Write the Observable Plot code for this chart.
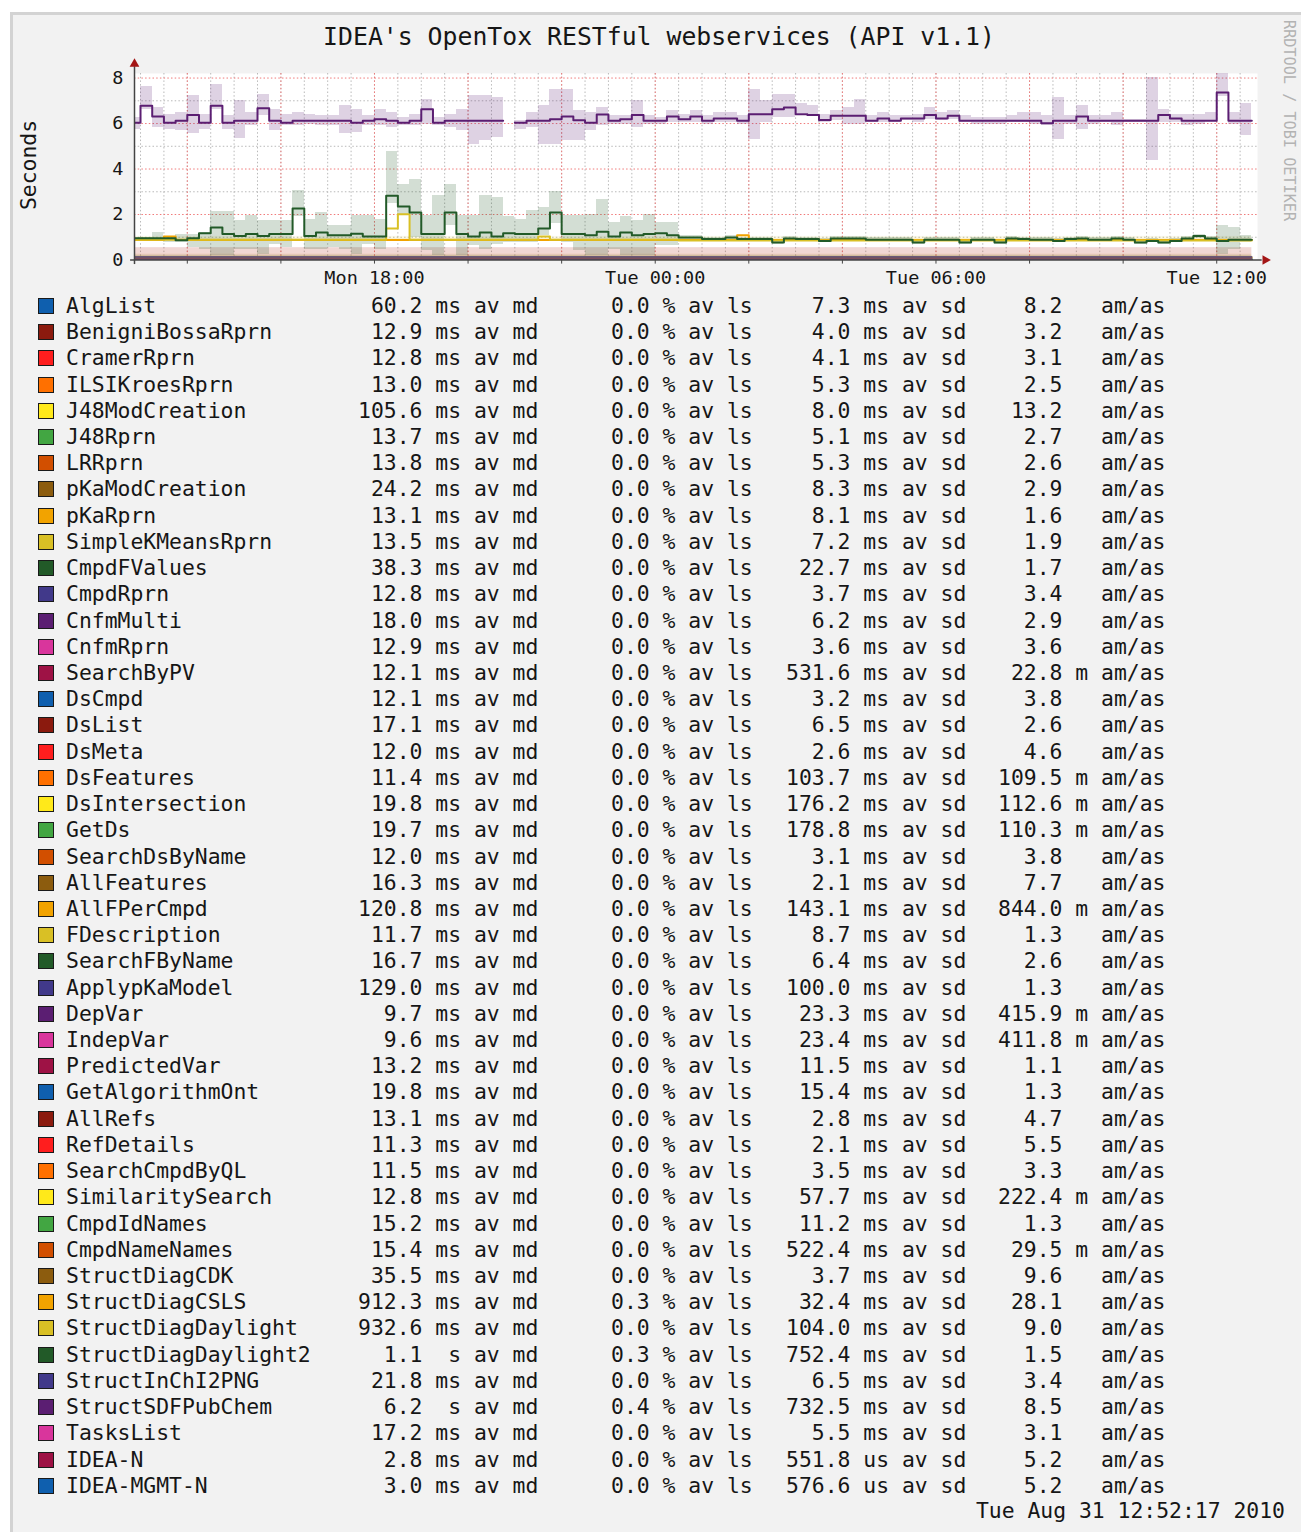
<!DOCTYPE html>
<html><head><meta charset="utf-8">
<script src="https://cdn.jsdelivr.net/npm/d3@7"></script>
<script src="https://cdn.jsdelivr.net/npm/@observablehq/plot@0.6"></script>
<style>
html,body{margin:0;padding:0;background:#fff;overflow:hidden;}
#page{position:relative;width:1301px;height:1532px;font-family:"DejaVu Sans Mono",monospace;color:#161616;overflow:hidden;}
#frame{position:absolute;left:10px;top:12px;width:1330px;height:1560px;background:#f2f2f2;border-left:3px solid #d3d3d3;border-top:3px solid #d3d3d3;box-sizing:border-box;}
#title{position:absolute;left:0;width:1318px;top:22px;text-align:center;font-size:24.8px;line-height:30px;white-space:pre;}
#ylab{position:absolute;left:28px;top:165px;transform:translate(-50%,-50%) rotate(-90deg);font-size:21.4px;white-space:nowrap;}
#wm{position:absolute;left:1281px;top:20px;writing-mode:vertical-rl;font-size:15.2px;line-height:16px;color:#b3b3b3;white-space:nowrap;}
#chart{position:absolute;left:0;top:0;}
.row{position:absolute;left:0;width:1301px;height:26.22px;}
.c{position:absolute;top:0;line-height:26.22px;white-space:pre;font-size:21.4px;}
.sw{position:absolute;left:37.5px;top:5px;width:16px;height:16px;border:1.5px solid #1a1a1a;box-sizing:border-box;}
#stamp{position:absolute;right:16px;top:1498px;font-size:21.4px;line-height:26px;white-space:pre;}
</style></head>
<body>
<div id="page">
  <div id="frame"></div>
  <div id="title">IDEA's OpenTox RESTful webservices (API v1.1)</div>
  <div id="ylab">Seconds</div>
  <div id="wm">RRDTOOL / TOBI OETIKER</div>
  <div id="chart"></div>
  <div id="legend"></div>
  <div id="stamp">Tue Aug 31 12:52:17 2010</div>
</div>
<script>
// ---------- legend data (as printed) ----------
const names = ["AlgList","BenigniBossaRprn","CramerRprn","ILSIKroesRprn","J48ModCreation","J48Rprn","LRRprn","pKaModCreation","pKaRprn","SimpleKMeansRprn","CmpdFValues","CmpdRprn","CnfmMulti","CnfmRprn","SearchByPV","DsCmpd","DsList","DsMeta","DsFeatures","DsIntersection","GetDs","SearchDsByName","AllFeatures","AllFPerCmpd","FDescription","SearchFByName","ApplypKaModel","DepVar","IndepVar","PredictedVar","GetAlgorithmOnt","AllRefs","RefDetails","SearchCmpdByQL","SimilaritySearch","CmpdIdNames","CmpdNameNames","StructDiagCDK","StructDiagCSLS","StructDiagDaylight","StructDiagDaylight2","StructInChI2PNG","StructSDFPubChem","TasksList","IDEA-N","IDEA-MGMT-N"];
const medTxt = ["60.2","12.9","12.8","13.0","105.6","13.7","13.8","24.2","13.1","13.5","38.3","12.8","18.0","12.9","12.1","12.1","17.1","12.0","11.4","19.8","19.7","12.0","16.3","120.8","11.7","16.7","129.0","9.7","9.6","13.2","19.8","13.1","11.3","11.5","12.8","15.2","15.4","35.5","912.3","932.6","1.1","21.8","6.2","17.2","2.8","3.0"];
const medUnit = ["ms","ms","ms","ms","ms","ms","ms","ms","ms","ms","ms","ms","ms","ms","ms","ms","ms","ms","ms","ms","ms","ms","ms","ms","ms","ms","ms","ms","ms","ms","ms","ms","ms","ms","ms","ms","ms","ms","ms","ms","s","ms","s","ms","ms","ms"];
const lossTxt = ["0.0","0.0","0.0","0.0","0.0","0.0","0.0","0.0","0.0","0.0","0.0","0.0","0.0","0.0","0.0","0.0","0.0","0.0","0.0","0.0","0.0","0.0","0.0","0.0","0.0","0.0","0.0","0.0","0.0","0.0","0.0","0.0","0.0","0.0","0.0","0.0","0.0","0.0","0.3","0.0","0.3","0.0","0.4","0.0","0.0","0.0"];
const sdTxt = ["7.3","4.0","4.1","5.3","8.0","5.1","5.3","8.3","8.1","7.2","22.7","3.7","6.2","3.6","531.6","3.2","6.5","2.6","103.7","176.2","178.8","3.1","2.1","143.1","8.7","6.4","100.0","23.3","23.4","11.5","15.4","2.8","2.1","3.5","57.7","11.2","522.4","3.7","32.4","104.0","752.4","6.5","732.5","5.5","551.8","576.6"];
const sdUnit = ["ms","ms","ms","ms","ms","ms","ms","ms","ms","ms","ms","ms","ms","ms","ms","ms","ms","ms","ms","ms","ms","ms","ms","ms","ms","ms","ms","ms","ms","ms","ms","ms","ms","ms","ms","ms","ms","ms","ms","ms","ms","ms","ms","ms","us","us"];
const ratioTxt = ["8.2","3.2","3.1","2.5","13.2","2.7","2.6","2.9","1.6","1.9","1.7","3.4","2.9","3.6","22.8","3.8","2.6","4.6","109.5","112.6","110.3","3.8","7.7","844.0","1.3","2.6","1.3","415.9","411.8","1.1","1.3","4.7","5.5","3.3","222.4","1.3","29.5","9.6","28.1","9.0","1.5","3.4","8.5","3.1","5.2","5.2"];
const ratioUnit = ["","","","","","","","","","","","","","","m","","","","m","m","m","","","m","","","","m","m","","","","","","m","","m","","","","","","","","",""];
const palette = ["#0f5fae","#8b1a0e","#ff1e1e","#ff7000","#ffe91a","#42a642","#d24f00","#8c5c0e","#f2a300","#d9c025","#225a28","#41398a","#5b1e72","#d9359c","#9e1245"];

// ---------- time axis ----------
const tStart = new Date(Date.UTC(2010,7,30,12,52,17));
const tEnd = new Date(Date.UTC(2010,7,31,12,52,17));
const bin0 = Date.UTC(2010,7,30,12,45);
const binMs = 15*60*1000;
const xTickLabels = ["Mon 18:00","Tue 00:00","Tue 06:00","Tue 12:00"];
const xTickTimes = [Date.UTC(2010,7,30,18),Date.UTC(2010,7,31,0),Date.UTC(2010,7,31,6),Date.UTC(2010,7,31,12)].map(d=>new Date(d));
const yTicks = [0,2,4,6,8];
const yMinor = [1,3,5,7];
const yMajor = [2,4,6,8];

// ---------- per-15-minute series (seconds) ----------
const purpleMd = [6.04,6.78,6.31,6.04,6.12,6.37,6.04,6.78,6.04,6.12,
6.12,6.67,6.12,6.04,6.12,6.12,6.12,6.12,6.12,6.04,
6.12,6.19,6.12,6.04,6.12,6.63,6.04,6.12,6.12,6.12,
6.12,6.12,null,6.04,6.12,6.12,6.19,6.31,6.14,6.04,
6.40,6.12,6.19,6.38,6.12,6.12,6.31,6.19,6.31,6.12,
6.22,6.22,6.12,6.41,6.41,6.63,6.70,6.41,6.38,6.16,
6.34,6.34,6.34,6.12,6.22,6.12,6.22,6.22,6.37,6.22,
6.34,6.12,6.12,6.12,6.12,6.12,6.12,6.12,6.01,6.12,
6.12,6.31,6.12,6.12,6.12,6.12,6.12,6.12,6.38,6.22,
6.12,6.12,6.12,7.36,6.12,6.12];
const purpleHi = [6.26,7.63,6.70,6.41,6.48,7.25,6.41,7.73,6.34,7.00,
6.48,7.29,6.63,6.41,6.48,6.41,6.34,6.34,6.80,6.63,
6.34,6.63,6.48,6.26,6.41,7.07,6.26,6.41,6.63,7.22,
7.22,7.14,null,6.12,6.48,6.78,7.48,7.48,6.56,6.48,
6.70,6.34,6.34,7.00,6.34,6.26,6.56,6.41,6.56,6.34,
6.48,6.48,6.34,7.51,7.00,7.29,7.29,6.88,6.80,6.41,
6.56,6.70,7.07,6.34,6.48,6.34,6.34,6.41,6.70,6.48,
6.56,6.34,6.26,6.26,6.26,6.34,6.48,6.48,6.34,7.14,
6.34,6.80,6.34,6.34,6.48,6.19,6.19,8.02,6.63,6.41,
6.41,6.41,6.48,8.21,6.48,6.89];
const purpleLo = [5.75,6.60,5.82,5.75,5.68,5.57,5.75,6.60,5.75,5.34,
5.90,6.34,5.68,5.90,5.90,5.97,5.90,5.90,5.57,5.60,
5.90,5.90,5.82,5.90,5.90,5.97,5.90,5.82,5.68,5.09,
5.24,5.38,null,5.75,5.82,5.09,5.09,5.24,5.24,5.68,
5.90,5.97,5.97,5.82,5.97,5.97,6.04,6.04,6.04,5.97,
6.04,6.04,5.97,5.28,6.04,6.28,6.28,6.45,6.40,6.04,
6.12,5.97,5.97,6.04,6.04,6.04,6.12,6.04,6.19,6.12,
6.19,6.04,5.97,5.97,5.97,6.04,6.04,5.97,5.90,5.28,
5.97,5.75,5.97,6.04,5.90,6.04,6.04,4.36,6.04,6.04,
5.90,5.97,6.12,7.20,5.97,5.46];
const greenMd = [0.96,0.96,0.96,0.96,0.87,0.96,1.18,1.43,1.14,1.06,
1.14,1.06,1.14,1.14,2.26,1.06,1.21,1.09,1.09,1.15,
1.03,1.03,2.82,2.35,2.09,1.14,1.14,2.09,1.14,1.03,
1.21,1.03,1.18,1.14,1.14,1.38,2.09,1.14,1.14,1.09,
1.24,1.03,1.21,1.09,1.14,1.18,1.09,0.99,0.99,0.92,
0.92,0.99,0.92,0.92,0.92,0.77,0.95,0.92,0.92,0.84,
0.95,0.95,0.95,0.89,0.89,0.89,0.89,0.77,0.89,0.89,
0.89,0.77,0.89,0.89,0.77,0.95,0.92,0.89,0.89,0.84,
0.92,0.95,0.89,0.89,0.95,0.89,0.77,0.84,0.77,0.84,
0.95,1.06,0.95,0.84,0.89,0.89];
const greenHi = [0.99,0.99,1.21,0.99,1.14,1.14,1.21,2.12,2.12,1.72,
1.97,1.72,1.72,1.72,3.04,1.79,2.09,1.53,1.50,1.97,
1.94,1.79,4.75,3.33,3.55,1.94,2.82,3.33,1.94,1.94,
2.82,2.75,1.91,1.79,2.16,2.31,3.00,1.94,1.94,2.01,
2.67,1.65,1.91,1.72,2.01,1.65,1.65,1.06,1.06,1.00,
1.00,1.06,1.00,1.00,1.00,0.90,1.02,1.00,1.00,0.95,
1.02,1.02,1.02,0.98,0.98,0.98,0.98,0.90,0.98,0.98,
0.98,0.90,0.98,0.98,0.90,1.02,1.00,0.98,0.98,0.95,
1.00,1.02,0.98,0.98,1.02,0.98,0.90,0.95,0.90,0.95,
1.02,1.14,1.02,1.53,1.43,1.06];
const greenLo = [0.84,0.84,0.92,0.77,0.77,0.55,0.48,0.21,0.21,0.48,
0.48,0.26,0.70,0.55,1.90,0.48,0.48,0.55,0.48,0.26,
0.70,0.48,2.50,2.00,1.00,0.40,0.18,1.50,0.18,0.62,
0.48,0.70,0.77,0.77,0.77,1.06,1.60,0.77,0.40,0.18,
0.18,0.48,0.18,0.18,0.18,0.62,0.62,0.88,0.88,0.82,
0.82,0.88,0.82,0.82,0.82,0.68,0.86,0.82,0.82,0.76,
0.86,0.86,0.86,0.80,0.80,0.80,0.80,0.68,0.80,0.80,
0.80,0.68,0.80,0.80,0.68,0.86,0.82,0.80,0.80,0.76,
0.82,0.86,0.80,0.80,0.86,0.80,0.68,0.76,0.68,0.76,
0.86,0.96,0.86,0.26,0.48,0.77];
const yellowMd = [0.89,0.89,0.89,0.89,0.89,0.89,0.89,0.89,0.89,0.89,
0.89,0.89,0.89,0.89,0.89,0.89,0.89,0.89,0.89,0.89,
0.89,0.89,1.38,2.01,0.89,0.89,0.89,0.89,0.89,0.89,
0.89,0.89,0.89,0.89,0.89,1.03,0.89,0.89,0.89,0.89,
0.89,0.89,0.89,0.89,0.89,0.89,0.89,0.86,0.86,0.86,
0.86,0.86,0.86,0.86,0.86,0.86,0.86,0.86,0.86,0.86,
0.86,0.86,0.86,0.86,0.86,0.86,0.86,0.86,0.86,0.86,
0.86,0.86,0.86,0.86,0.86,0.86,0.86,0.86,0.86,0.86,
0.86,0.86,0.86,0.86,0.86,0.86,0.86,0.86,0.86,0.86,
0.86,0.86,0.86,0.86,0.86,0.86];
const orangeMd = [0.88,0.88,0.88,1.03,0.88,0.88,0.88,0.88,0.88,0.88,
0.88,0.88,0.88,0.88,0.88,0.88,0.88,0.88,0.88,0.88,
0.88,0.88,0.88,0.88,0.88,0.88,0.88,0.88,0.88,0.88,
0.88,0.88,0.88,0.88,0.88,0.88,0.88,0.88,0.88,0.88,
0.88,0.88,0.88,0.88,0.88,0.88,0.88,0.88,0.88,0.88,
0.88,0.88,1.09,0.88,0.88,0.88,0.88,0.88,0.88,0.88,
0.88,0.88,0.88,0.88,0.88,0.88,0.88,0.88,0.88,0.88,
0.88,0.88,0.88,0.88,0.88,0.88,0.88,0.88,0.88,0.88,
0.88,0.88,0.88,0.88,0.88,0.88,0.88,0.88,0.88,0.88,
0.88,0.88,0.88,0.88,0.88,0.88];

// ---------- build tables ----------
const unitF = {s:1, ms:1e-3, us:1e-6};
const medVal = medTxt.map((t,i)=>+t*unitF[medUnit[i]]);
const sdVal = sdTxt.map((t,i)=>+t*unitF[sdUnit[i]]);
const bStart = k => new Date(bin0 + k*binMs);
const bEnd = k => new Date(bin0 + (k+1)*binMs);
function stepTable(vals){const out=[];vals.forEach((v,k)=>{if(v==null)out.push({t:bStart(k),v:NaN});else{out.push({t:bStart(k),v});out.push({t:bEnd(k),v});}});return out;}
function bandTable(lo,hi){const out=[];lo.forEach((l,k)=>{if(l!=null)out.push({t1:bStart(k),t2:bEnd(k),lo:l,hi:hi[k]});});return out;}
const spanStart = bStart(0), spanEnd = bEnd(95);
const mainIdx = {38:orangeMd, 39:yellowMd, 40:greenMd, 42:purpleMd};
const readBands = {40:[greenLo,greenHi], 42:[purpleLo,purpleHi]};

const marks = [Plot.frame({fill:"white", stroke:null})];
// grid
const xMinor = d3.utcMinute.every(30).range(tStart, tEnd);
const xMajor = d3.utcHour.every(2).range(tStart, tEnd);
marks.push(Plot.ruleY(yMinor,{stroke:"#b9b9b9",strokeDasharray:"1.5,2.2"}));
marks.push(Plot.ruleX(xMinor,{stroke:"#b9b9b9",strokeDasharray:"1.5,2.2"}));
marks.push(Plot.ruleY(yMajor,{stroke:"#f07a7a",strokeDasharray:"1.5,2.2"}));
marks.push(Plot.ruleX(xMajor,{stroke:"#f07a7a",strokeDasharray:"1.5,2.2"}));
// bands
names.forEach((n,i)=>{
  const col = palette[i%15];
  if (readBands[i]) {
    marks.push(Plot.rect(bandTable(readBands[i][0],readBands[i][1]),{x1:"t1",x2:"t2",y1:"lo",y2:"hi",fill:col,fillOpacity:0.2,clip:true,shapeRendering:"crispEdges"}));
  } else {
    marks.push(Plot.rect([{t1:spanStart,t2:spanEnd,lo:medVal[i]-sdVal[i],hi:medVal[i]+sdVal[i]}],{x1:"t1",x2:"t2",y1:"lo",y2:"hi",fill:col,fillOpacity:0.1,clip:true}));
  }
});
// lines
names.forEach((n,i)=>{
  const col = palette[i%15];
  if (mainIdx[i]) return;
  marks.push(Plot.line([{t:spanStart,v:medVal[i]},{t:spanEnd,v:medVal[i]}],{x:"t",y:"v",stroke:col,strokeWidth:1.5,clip:true}));
});
[38,39,40,42].forEach(i=>{
  marks.push(Plot.line(stepTable(mainIdx[i]),{x:"t",y:"v",stroke:palette[i%15],strokeWidth:2,clip:true}));
});
// axes lines and arrows
const yAxisRule = [{t:tStart,y1:-0.2,y2:8.5}];
const xAxisRule = [{y:0,t1:new Date(+tStart-5*60000),t2:new Date(+tEnd+6*60000)}];
const yArrow = [{t:tStart,y:8.62}];
const xArrow = [{t:new Date(+tEnd+10*60000),y:0}];
marks.push(Plot.ruleX(xMajor,{y1:0,y2:-0.18,stroke:"#444"}));
marks.push(Plot.ruleX(yAxisRule,{x:"t",y1:"y1",y2:"y2",stroke:"#444",strokeWidth:1.5}));
marks.push(Plot.ruleY(xAxisRule,{y:"y",x1:"t1",x2:"t2",stroke:"#444",strokeWidth:1.5}));
marks.push(Plot.dot(yArrow,{x:"t",y:"y",symbol:"triangle",r:3.6,fill:"#a31515",stroke:null}));
marks.push(Plot.dot(xArrow,{x:"t",y:"y",symbol:"triangle",r:3.6,fill:"#a31515",stroke:null,rotate:90}));

const chart = Plot.plot({
  width:1301, height:290,
  marginLeft:134, marginRight:44, marginTop:73, marginBottom:30.5,
  style:{background:"transparent",overflow:"visible",fontFamily:"'DejaVu Sans Mono', monospace",fontSize:"18.5px",color:"#161616"},
  x:{type:"utc",domain:[tStart,tEnd],ticks:xTickTimes,tickFormat:d=>xTickLabels[xTickTimes.findIndex(t=>+t===+d)],tickSize:0,tickPadding:11,label:null},
  y:{domain:[0,8.2],ticks:yTicks,tickSize:0,tickPadding:11,label:null},
  marks
});
document.getElementById("chart").appendChild(chart);

// ---------- legend ----------
const legend = document.getElementById("legend");
names.forEach((name,i)=>{
  const row = document.createElement("div");
  row.className = "row";
  row.style.top = (306 + i*26.22 - 13.11) + "px";
  const parts = [
    [66, name],
    [358, medTxt[i].padStart(5)+" "+medUnit[i].padStart(2)+" av md"],
    [611, lossTxt[i]+" % av ls"],
    [786, sdTxt[i].padStart(5)+" "+sdUnit[i]+" av sd"],
    [998, ratioTxt[i].padStart(5)+" "+(ratioUnit[i]||" ")+" am/as"]
  ];
  const sw = document.createElement("span");
  sw.className = "sw"; sw.style.background = palette[i%15];
  row.appendChild(sw);
  parts.forEach(([x,txt])=>{const s=document.createElement("span");s.className="c";s.style.left=x+"px";s.textContent=txt;row.appendChild(s);});
  legend.appendChild(row);
});
</script>
</body></html>
